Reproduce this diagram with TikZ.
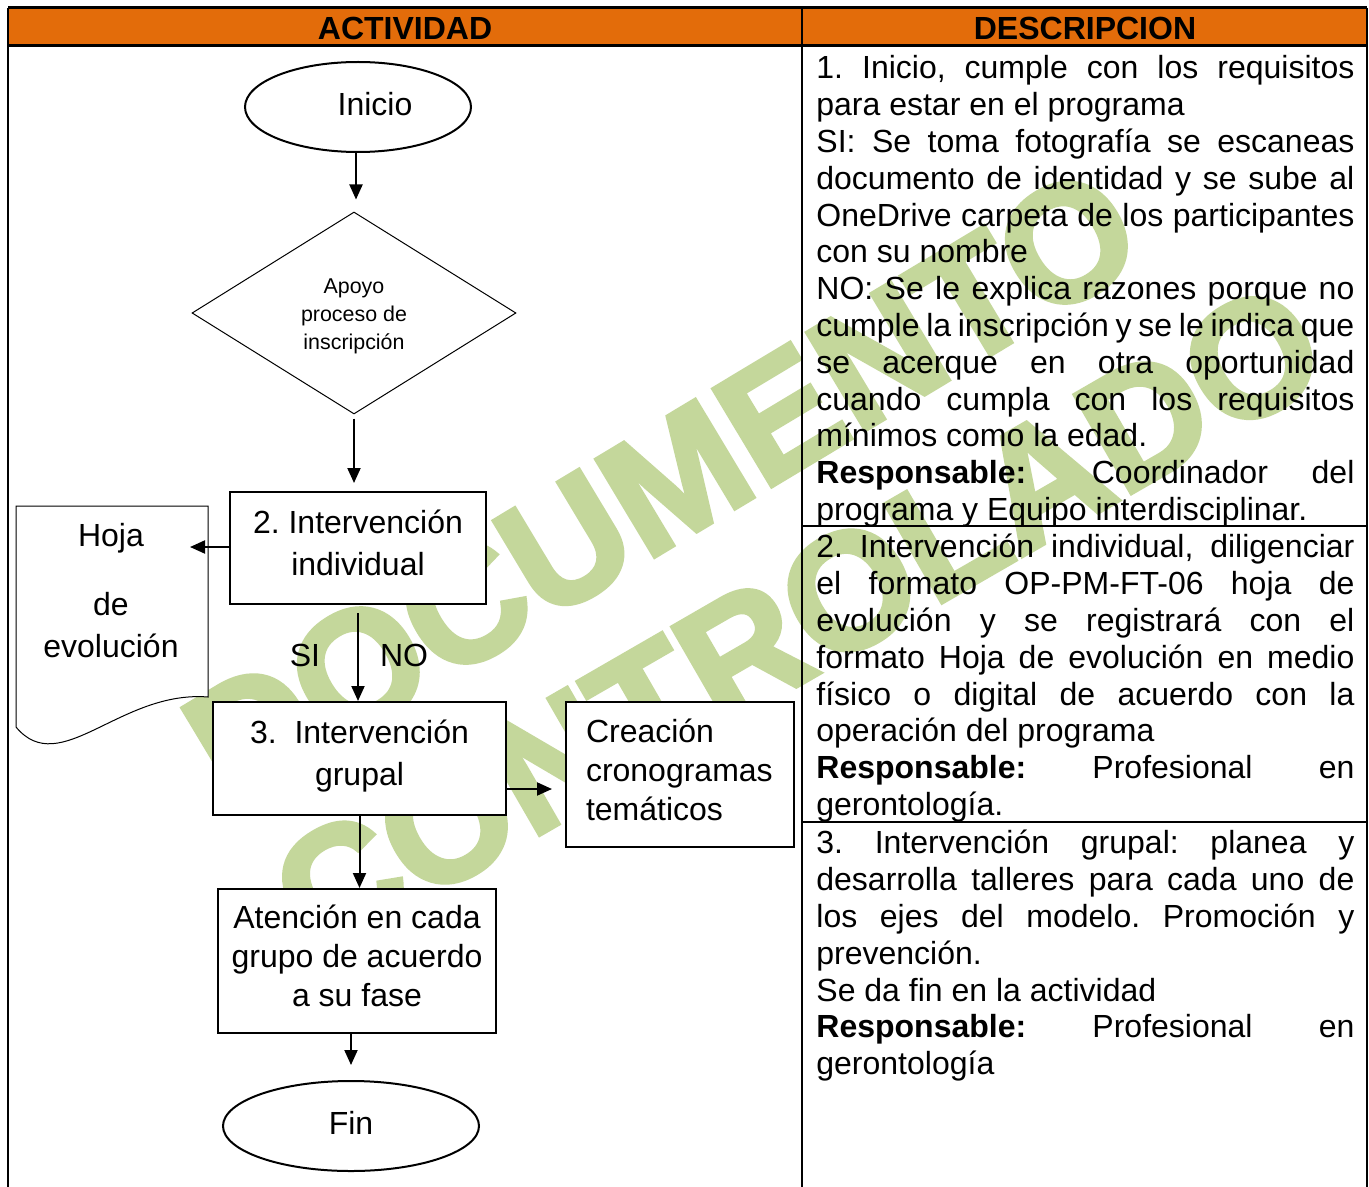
\documentclass[tikz,border=0pt]{standalone}
\usepackage{fontspec}
\setmainfont{Liberation Sans}
\newfontfamily\wmfont{Liberation Sans}[BoldFeatures={FakeBold=3}]
\usetikzlibrary{shapes.geometric,arrows.meta,calc}
\definecolor{hdr}{RGB}{227,108,10}
\definecolor{wmgreen}{RGB}{196,215,155}
\frenchspacing
\newcommand\jl[1]{\makebox[269pt][s]{\frenchspacing\spaceskip=.278em plus 1fil minus .3em\relax #1}}
\newcommand\dn[1]{\rule[-#1]{0pt}{0pt}}
\begin{document}
\begin{tikzpicture}[x=0.5pt,y=-0.5pt,
  box/.style={draw,line width=1pt,fill=white,inner sep=0pt,align=center,font=\fontsize{16}{21}\selectfont},
  ell/.style={ellipse,draw,line width=1pt,fill=white,inner sep=0pt,font=\fontsize{16}{19}\selectfont},
  dia/.style={diamond,draw,line width=0.5pt,fill=white,inner sep=0pt,aspect=1.6,align=center,font=\fontsize{10.7}{14}\selectfont},
  desc/.style={inner sep=0pt,anchor=north west,align=left,font=\fontsize{16}{18.4}\selectfont},
  hdrtext/.style={inner sep=0pt,font=\bfseries\fontsize{16}{19}\selectfont},
  lbl/.style={inner sep=0pt,font=\fontsize{16}{19}\selectfont},
  wm/.style={inner sep=0pt,text=wmgreen,font=\wmfont\bfseries\fontsize{82}{92}\selectfont},
  arr/.style={line width=1pt,-{Triangle[length=7.5pt,width=6.5pt]}}]
\useasboundingbox (0,0) rectangle (1369,1187);
\fill[white] (0,0) rectangle (1369,1187);
\fill[hdr] (8,8) rectangle (1367,46);
% watermark
\node[wm,rotate=31] (wm1) at (662,486) {DOCUMENTO};
\node[wm,rotate=30] (wm2) at (798,620) {CONTROLADO};
% table
\draw[line width=1.5pt] (8,8) -- (1367,8);
\draw[line width=1.5pt] (8,46) -- (1367,46);
\draw[line width=1pt] (8,8) -- (8,1187);
\draw[line width=1pt] (802,8) -- (802,1187);
\draw[line width=1pt] (1367,8) -- (1367,1187);
\draw[line width=1pt] (802,526) -- (1367,526);
\draw[line width=1pt] (802,822) -- (1367,822);
\node[hdrtext] (h1) at (405,28) {ACTIVIDAD};
\node[hdrtext] (h2) at (1085,28) {DESCRIPCION};
% descriptions
\node[desc] (d1) at (816,52.7) {\strut\jl{1. Inicio, cumple con los requisitos}\\
para estar en el programa\\
\jl{SI: Se toma fotografía se escaneas}\\
\jl{documento de identidad y se sube al}\\
\jl{OneDrive carpeta de los participantes}\\
con su nombre\\
\jl{NO: Se le explica razones porque no}\\
\jl{cumple la inscripción y se le indica que}\\
\jl{se acerque en otra oportunidad}\\
\jl{cuando cumpla con los requisitos}\\
mínimos como la edad.\\
\jl{\textbf{Responsable:}\ \ \ Coordinador\ \ del}\\
programa y Equipo interdisciplinar.};
\node[desc] (d2) at (816,531.7) {\strut\jl{2. Intervención individual, diligenciar}\\
\jl{el formato OP-PM-FT-06 hoja de}\\
\jl{evolución y se registrará con el}\\
\jl{formato Hoja de evolución en medio}\\
\jl{físico o digital de acuerdo con la}\\
operación del programa\\
\jl{\textbf{Responsable:} Profesional en}\\
gerontología.};
\node[desc] (d3) at (816,827.7) {\strut\jl{3. Intervención grupal: planea y}\\
\jl{desarrolla talleres para cada uno de}\\
\jl{los ejes del modelo. Promoción y}\\
prevención.\\
Se da fin en la actividad\\
\jl{\textbf{Responsable:} Profesional en}\\
gerontología};
% flowchart
\node[ell,minimum width=113pt,minimum height=45pt] (ini) at (358,107) {\hspace*{17pt}Inicio\dn{3pt}};
\node[dia,minimum width=162pt,minimum height=101pt] (dia) at (354,313) {\rule{0pt}{10.7pt}Apoyo\\proceso de\\inscripción};
\node[box,minimum width=128pt,minimum height=56pt] (b2) at (358,548) {2. Intervención\\individual\dn{5pt}};
\node[box,minimum width=146.5pt,minimum height=56.5pt] (b3) at (359.5,758.5) {3.\ \ Intervención\\grupal\dn{6pt}};
\node[box,text width=94pt,inner xsep=10pt,minimum height=72.5pt,align=left,font=\fontsize{16}{19.5}\selectfont] (cre) at (680,774.5) {Creación\\cronogramas\\temáticos\dn{5pt}};
\node[box,minimum width=139pt,minimum height=72pt,font=\fontsize{16}{19.5}\selectfont] (ate) at (357,961) {Atención en cada\\grupo de acuerdo\\a su fase\dn{5pt}};
\node[ell,minimum width=128pt,minimum height=45pt] (fin) at (351,1126) {Fin\dn{3pt}};
% document shape
\draw[line width=0.5pt,fill=white] (16,727) -- (16,506) -- (208,506) -- (208,697) .. controls (120,690) and (60,780) .. (16,727) -- cycle;
\node[lbl,align=center,font=\fontsize{16}{21}\selectfont] (hoja) at (111,591) {Hoja\\[13.5pt]de\\evolución};
\coordinate (hojain) at (190,547);
\node[lbl] (si) at (305,655) {SI};
\node[lbl] (no) at (404,655) {NO};
% connectors
\draw[arr,shorten >=6pt] ([xshift=-1pt]ini.south) -- ([xshift=-1pt]ini.south |- dia.north);
\draw[arr,shorten <=2pt,shorten >=4pt] (dia.south) -- (dia.south |- b2.north);
\draw[arr,shorten <=4pt] (b2.south) -- (b2.south |- b3.north);
\draw[arr] (b2.west |- hojain) -- (hojain);
\draw[arr,shorten >=6.5pt] ([yshift=-15.25pt]b3.east) -- ([yshift=-15.25pt]b3.east -| cre.west);
\draw[arr] (b3.south) -- (b3.south |- ate.north);
\draw[arr,shorten >=7.5pt] (ate.south -| fin.north) -- (fin.north);
\end{tikzpicture}
\end{document}
